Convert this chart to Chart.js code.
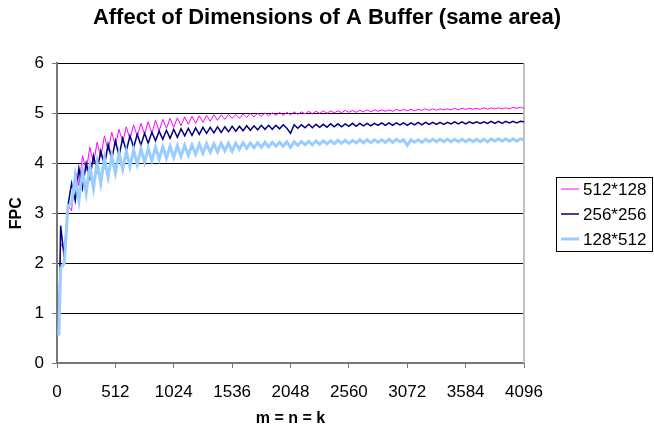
<!DOCTYPE html>
<html lang="en">
<head>
  <meta charset="UTF-8" />
  <title>Affect of Dimensions of A Buffer (same area)</title>
  <script src="https://cdn.jsdelivr.net/npm/chart.js"></script>
  <style>
    html,body{margin:0;padding:0;background:#fff}
    .wrap{width:654px;height:431px}
  </style>
</head>
<body>
  <div class="wrap"><canvas id="fpcChart" width="654" height="431"></canvas></div>

<script>
// matrix size m = n = k
const sizes = [
  16, 32, 64, 96, 128, 160, 192, 224,
  256, 288, 320, 352, 384, 416, 448, 480,
  512, 544, 576, 608, 640, 672, 704, 736,
  768, 800, 832, 864, 896, 928, 960, 992,
  1024, 1056, 1088, 1120, 1152, 1184, 1216, 1248,
  1280, 1312, 1344, 1376, 1408, 1440, 1472, 1504,
  1536, 1568, 1600, 1632, 1664, 1696, 1728, 1760,
  1792, 1824, 1856, 1888, 1920, 1952, 1984, 2016,
  2048, 2080, 2112, 2144, 2176, 2208, 2240, 2272,
  2304, 2336, 2368, 2400, 2432, 2464, 2496, 2528,
  2560, 2592, 2624, 2656, 2688, 2720, 2752, 2784,
  2816, 2848, 2880, 2912, 2944, 2976, 3008, 3040,
  3072, 3104, 3136, 3168, 3200, 3232, 3264, 3296,
  3328, 3360, 3392, 3424, 3456, 3488, 3520, 3552,
  3584, 3616, 3648, 3680, 3712, 3744, 3776, 3808,
  3840, 3872, 3904, 3936, 3968, 4000, 4032, 4064,
  4096
];

// FPC, A buffer 512*128
const fpc512x128 = [
  0.6, 2.4, 2.25, 3.15, 3.05, 3.85, 3.55, 4.15,
  3.85, 4.32, 4.0, 4.42, 4.12, 4.55, 4.25, 4.62,
  4.35, 4.68, 4.42, 4.73, 4.48, 4.77, 4.54, 4.8,
  4.58, 4.83, 4.6, 4.86, 4.65, 4.88, 4.7, 4.9,
  4.72, 4.91, 4.75, 4.93, 4.78, 4.94, 4.8, 4.95,
  4.82, 4.96, 4.84, 4.97, 4.86, 4.97, 4.88, 4.98,
  4.9, 4.98, 4.9, 4.99, 4.92, 5.0, 4.93, 5.0,
  4.94, 5.01, 4.95, 5.01, 4.96, 5.02, 4.96, 5.02,
  4.97, 5.03, 4.98, 5.03, 4.99, 5.04, 4.99, 5.04,
  5.0, 5.05, 5.0, 5.05, 5.01, 5.05, 5.01, 5.06,
  5.02, 5.06, 5.02, 5.06, 5.03, 5.07, 5.03, 5.07,
  5.04, 5.07, 5.04, 5.07, 5.04, 5.08, 5.05, 5.08,
  5.05, 5.08, 5.05, 5.08, 5.06, 5.09, 5.06, 5.09,
  5.06, 5.09, 5.07, 5.09, 5.07, 5.1, 5.07, 5.1,
  5.08, 5.1, 5.08, 5.1, 5.08, 5.11, 5.08, 5.11,
  5.09, 5.11, 5.09, 5.11, 5.09, 5.12, 5.1, 5.12,
  5.1
];

// FPC, A buffer 256*256
const fpc256x256 = [
  0.6, 2.75, 2.1, 3.15, 3.6, 3.25, 3.9, 3.5,
  4.0, 3.7, 4.15, 3.85, 4.25, 3.95, 4.38, 4.08,
  4.45, 4.15, 4.5, 4.25, 4.55, 4.32, 4.58, 4.36,
  4.6, 4.4, 4.62, 4.45, 4.64, 4.48, 4.66, 4.5,
  4.68, 4.52, 4.69, 4.55, 4.7, 4.56, 4.71, 4.58,
  4.72, 4.6, 4.72, 4.61, 4.73, 4.62, 4.73, 4.63,
  4.74, 4.64, 4.74, 4.65, 4.75, 4.66, 4.75, 4.67,
  4.76, 4.68, 4.76, 4.68, 4.76, 4.69, 4.77, 4.7,
  4.6, 4.77, 4.7, 4.77, 4.71, 4.78, 4.71, 4.78,
  4.72, 4.78, 4.72, 4.79, 4.73, 4.79, 4.73, 4.79,
  4.74, 4.8, 4.74, 4.8, 4.75, 4.8, 4.75, 4.8,
  4.76, 4.81, 4.76, 4.81, 4.76, 4.81, 4.77, 4.81,
  4.76, 4.81, 4.77, 4.82, 4.77, 4.82, 4.78, 4.82,
  4.78, 4.82, 4.78, 4.82, 4.79, 4.83, 4.79, 4.83,
  4.79, 4.83, 4.8, 4.83, 4.8, 4.83, 4.8, 4.84,
  4.8, 4.84, 4.8, 4.84, 4.81, 4.84, 4.81, 4.84,
  4.83
];

// FPC, A buffer 128*512
const fpc128x512 = [
  0.55, 1.9, 2.0, 3.15, 3.2, 3.75, 3.25, 3.85,
  3.4, 3.95, 3.5, 4.02, 3.6, 4.1, 3.72, 4.15,
  3.8, 4.2, 3.88, 4.24, 3.93, 4.27, 3.98, 4.29,
  4.02, 4.3, 4.05, 4.32, 4.08, 4.33, 4.1, 4.34,
  4.12, 4.35, 4.14, 4.36, 4.16, 4.37, 4.18, 4.38,
  4.2, 4.39, 4.22, 4.39, 4.23, 4.4, 4.25, 4.4,
  4.24, 4.4, 4.28, 4.41, 4.3, 4.41, 4.31, 4.41,
  4.32, 4.42, 4.33, 4.42, 4.34, 4.42, 4.34, 4.43,
  4.32, 4.43, 4.36, 4.44, 4.37, 4.44, 4.37, 4.45,
  4.38, 4.45, 4.39, 4.45, 4.39, 4.46, 4.4, 4.46,
  4.4, 4.46, 4.41, 4.47, 4.41, 4.47, 4.41, 4.47,
  4.42, 4.47, 4.42, 4.48, 4.42, 4.48, 4.43, 4.47,
  4.36, 4.47, 4.42, 4.47, 4.42, 4.48, 4.43, 4.48,
  4.43, 4.48, 4.43, 4.48, 4.43, 4.48, 4.43, 4.48,
  4.43, 4.48, 4.43, 4.48, 4.43, 4.48, 4.43, 4.49,
  4.44, 4.49, 4.44, 4.49, 4.44, 4.49, 4.44, 4.49,
  4.47
];

const seriesNames = ['512*128', '256*256', '128*512'];
const xTicks = [0, 512, 1024, 1536, 2048, 2560, 3072, 3584, 4096];
const yTicks = [0, 1, 2, 3, 4, 5, 6];

const FONT = '"Liberation Sans", Arial, Helvetica, sans-serif';
Chart.defaults.font.family = FONT;
Chart.defaults.color = '#000';

function points(vals){
  return sizes.map((x, i) => ({x: x, y: vals[i]}));
}

// grey right edge of the plot area
const plotBorder = {
  id: 'plotBorder',
  beforeDatasetsDraw(chart){
    const ctx = chart.ctx, a = chart.chartArea;
    ctx.save();
    ctx.strokeStyle = '#c0c0c0';
    ctx.lineWidth = 2;
    ctx.beginPath();
    ctx.moveTo(a.right, a.top);
    ctx.lineTo(a.right, a.bottom);
    ctx.stroke();
    ctx.restore();
  }
};

// boxed legend to the right of the plot
const legendBox = {
  id: 'legendBox',
  afterDraw(chart){
    const ctx = chart.ctx, a = chart.chartArea;
    const x = a.right + 32, y = 177, w = 96, h = 74;
    ctx.save();
    ctx.strokeStyle = '#000';
    ctx.lineWidth = 1;
    ctx.strokeRect(x + 0.5, y + 0.5, w, h);
    ctx.font = '17px ' + FONT;
    ctx.textBaseline = 'middle';
    ctx.fillStyle = '#000';
    chart.data.datasets.forEach((ds, i) => {
      const ly = y + 12 + i * 25;
      ctx.strokeStyle = ds.borderColor;
      ctx.lineWidth = ds.borderWidth;
      ctx.beginPath();
      ctx.moveTo(x + 5, ly);
      ctx.lineTo(x + 23, ly);
      ctx.stroke();
      ctx.fillText(ds.label, x + 27, ly + 1);
    });
    ctx.restore();
  }
};

new Chart(document.getElementById('fpcChart'), {
  type: 'line',
  data: {
    datasets: [
      {label: seriesNames[0], data: points(fpc512x128), borderColor: '#ff00ff', borderWidth: 1, order: 3},
      {label: seriesNames[1], data: points(fpc256x256), borderColor: '#000080', borderWidth: 1.5, order: 2},
      {label: seriesNames[2], data: points(fpc128x512), borderColor: '#99ccff', borderWidth: 3, order: 1}
    ]
  },
  options: {
    responsive: false,
    animation: false,
    elements: {point: {radius: 0}, line: {tension: 0, fill: false}},
    layout: {padding: 0},
    plugins: {
      legend: {display: false},
      tooltip: {enabled: false},
      title: {
        display: true,
        text: 'Affect of Dimensions of A Buffer (same area)',
        color: '#000',
        font: {size: 22, weight: 'bold'},
        padding: {top: 5, bottom: 32}
      }
    },
    scales: {
      x: {
        type: 'linear', min: 0, max: 4096,
        afterBuildTicks: s => { s.ticks = xTicks.map(v => ({value: v})); },
        afterFit: s => { s.height = 68; },
        ticks: {callback: v => String(v), font: {size: 17}, padding: 14, maxRotation: 0, autoSkip: false},
        grid: {drawOnChartArea: false, tickLength: 5, tickColor: '#777'},
        border: {color: '#777', width: 2},
        title: {display: true, text: 'm = n = k', font: {size: 16, weight: 'bold'}, padding: {top: 3, bottom: 3}}
      },
      y: {
        min: 0, max: 6,
        afterBuildTicks: s => { s.ticks = yTicks.map(v => ({value: v})); },
        afterFit: s => { s.width = 57; },
        ticks: {font: {size: 17}, padding: 8},
        grid: {color: c => (c.tick && c.tick.value === 0) ? '#777' : '#000', tickLength: 5, tickColor: '#777'},
        border: {color: '#777', width: 2},
        title: {display: true, text: 'FPC', font: {size: 16, weight: 'bold'}, padding: {top: 7, bottom: 0}}
      },
      // empty right-hand strip that holds the legend
      side: {
        position: 'right',
        afterFit: s => { s.width = 130; },
        ticks: {display: false},
        grid: {display: false},
        border: {display: false}
      }
    }
  },
  plugins: [plotBorder, legendBox]
});
</script>
</body>
</html>
